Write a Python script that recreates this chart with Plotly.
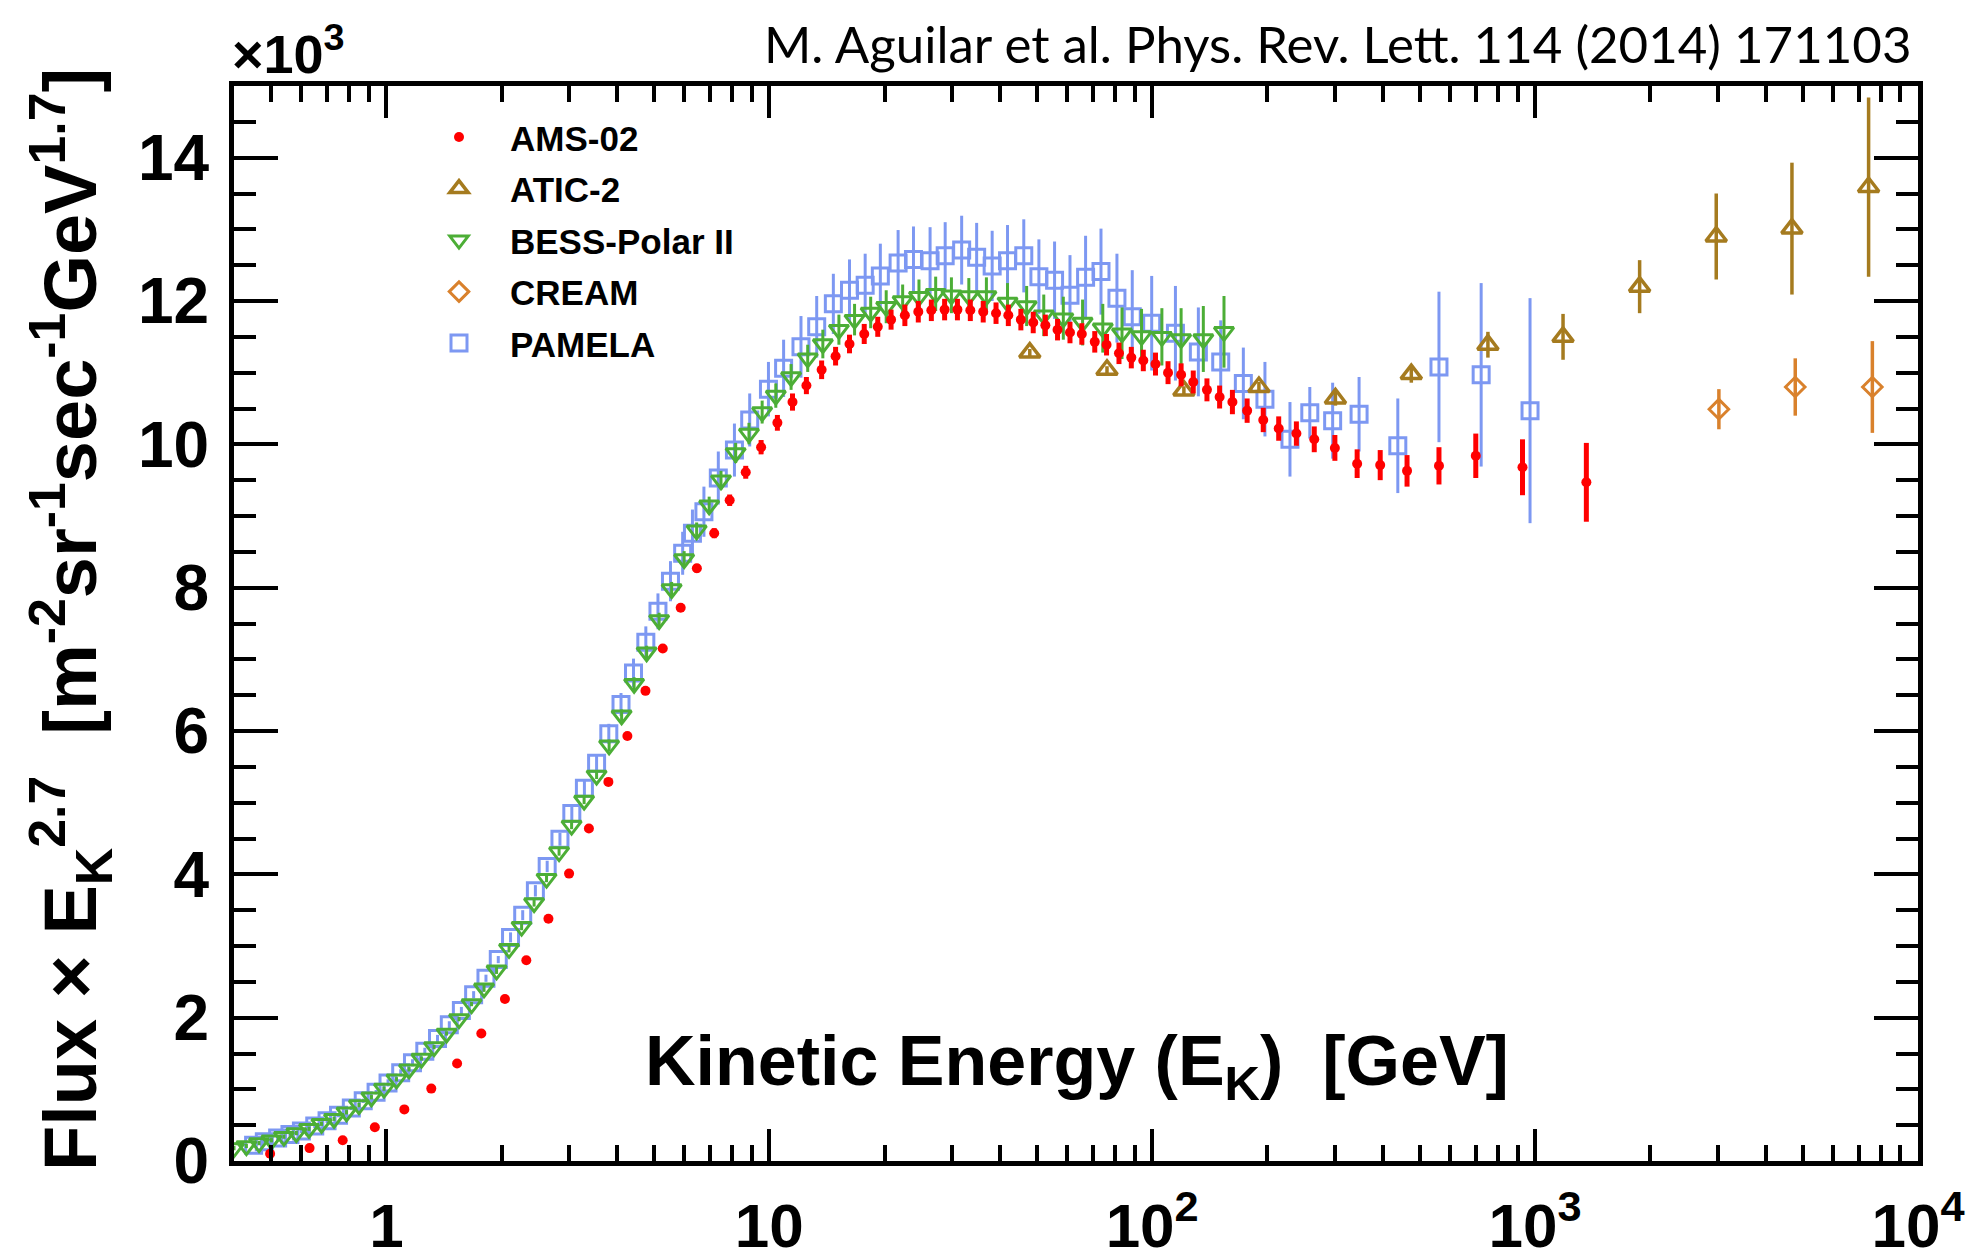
import math
import plotly.graph_objects as go

# ---------------- data ----------------
ams_E = [0.497, 0.630, 0.769, 0.933, 1.114, 1.31, 1.53, 1.77, 2.04, 2.32, 2.65, 3.00,
         3.38, 3.80, 4.26, 4.75, 5.27, 5.87, 6.47, 7.18, 7.88, 8.68, 9.52, 10.5, 11.5,
         12.5, 13.7, 14.9, 16.2, 17.7, 19.2, 20.8, 22.6, 24.5, 26.5, 28.7, 31.0, 33.5,
         36.2, 39.1, 42.1, 45.4, 48.9, 52.6, 56.6, 61.0, 65.5, 70.8, 76.0, 81.9, 88.2,
         94.8, 102, 110, 119, 128, 139, 150, 162, 177, 195, 214, 238, 265, 300, 343,
         394, 463, 561, 700, 927, 1361]
ams_F = [0.10, 0.18, 0.29, 0.47, 0.72, 1.01, 1.36, 1.78, 2.26, 2.80, 3.38, 4.01, 4.64,
         5.29, 5.93, 6.56, 7.15, 7.72, 8.27, 8.76, 9.22, 9.61, 9.96, 10.30, 10.59, 10.82,
         11.04, 11.23, 11.40, 11.54, 11.64, 11.74, 11.80, 11.85, 11.87, 11.88, 11.88,
         11.87, 11.85, 11.83, 11.80, 11.74, 11.70, 11.66, 11.60, 11.56, 11.54, 11.43,
         11.39, 11.27, 11.21, 11.17, 11.12, 11.00, 10.97, 10.87, 10.76, 10.66, 10.59,
         10.47, 10.34, 10.22, 10.15, 10.07, 9.95, 9.73, 9.71, 9.63, 9.70, 9.84, 9.68, 9.47]
ams_err = [0.03, 0.03, 0.03, 0.03, 0.03, 0.03, 0.03, 0.03, 0.03, 0.03, 0.03, 0.03,
           0.03, 0.03, 0.03, 0.03, 0.03, 0.03, 0.06, 0.07, 0.08, 0.09, 0.10, 0.11,
           0.12, 0.12, 0.13, 0.13, 0.13, 0.14, 0.14, 0.14, 0.15,
           0.15, 0.15, 0.15, 0.15, 0.15, 0.15, 0.15, 0.15, 0.15, 0.15, 0.15, 0.15,
           0.15, 0.15, 0.15, 0.15, 0.15, 0.15, 0.15,
           0.16, 0.16, 0.16, 0.16, 0.16, 0.16, 0.17, 0.17, 0.17, 0.17,
           0.17, 0.18, 0.18, 0.20, 0.21, 0.22, 0.26, 0.31, 0.39, 0.55]

atic_E = [47.9, 76.2, 121, 190, 301, 475, 753, 1183, 1875, 2972, 4686, 7430]
atic_F = [11.28, 11.04, 10.75, 10.80, 10.64, 10.98, 11.39, 11.50, 12.20, 12.90, 13.01, 13.59]
atic_err = [0.05, 0.05, 0.06, 0.07, 0.10, 0.12, 0.18, 0.32, 0.37, 0.60, 0.92, 1.25]

bess_E = [0.400, 0.431, 0.465, 0.501, 0.540, 0.582, 0.628, 0.677, 0.730, 0.787, 0.848,
          0.914, 0.986, 1.063, 1.146, 1.235, 1.332, 1.436, 1.548, 1.669, 1.799, 1.940,
          2.091, 2.255, 2.431, 2.620, 2.825, 3.046, 3.284, 3.540, 3.817, 4.115, 4.436,
          4.783, 5.156, 5.559, 5.993, 6.461, 6.966, 7.48, 8.17, 8.85, 9.58, 10.4, 11.4,
          12.6, 13.8, 15.2, 16.7, 18.4, 20.2, 22.3, 24.6, 27.2, 29.9, 33.2, 36.9, 41.9,
          47.0, 52.1, 58.6, 65.8, 74.3, 83.4, 93.8, 106, 119, 136, 154]
bess_F = [0.18, 0.21, 0.25, 0.29, 0.34, 0.39, 0.45, 0.52, 0.59, 0.68, 0.78, 0.89, 1.01,
          1.14, 1.28, 1.43, 1.59, 1.78, 1.98, 2.19, 2.41, 2.66, 2.96, 3.27, 3.60, 3.94,
          4.31, 4.68, 5.03, 5.38, 5.80, 6.22, 6.66, 7.10, 7.55, 7.98, 8.40, 8.80, 9.15,
          9.50, 9.88, 10.15, 10.45, 10.68, 10.94, 11.20, 11.40, 11.60, 11.74, 11.84,
          11.92, 12.00, 12.06, 12.10, 12.08, 12.07, 12.07, 11.98, 11.93, 11.80, 11.76,
          11.70, 11.62, 11.55, 11.51, 11.50, 11.47, 11.47, 11.57]
bess_err = [0.03, 0.03, 0.03, 0.03, 0.03, 0.03, 0.03, 0.03, 0.03, 0.03, 0.03, 0.03,
            0.03, 0.03, 0.03, 0.03, 0.03, 0.03, 0.03, 0.03,
            0.05, 0.05, 0.05, 0.05, 0.05, 0.05, 0.05, 0.05, 0.05, 0.05,
            0.08, 0.08, 0.09, 0.09, 0.10, 0.10, 0.11, 0.11, 0.12,
            0.13, 0.14, 0.15, 0.16, 0.17, 0.18, 0.19, 0.20, 0.21, 0.22, 0.22, 0.23,
            0.23, 0.24, 0.24, 0.25, 0.25, 0.26, 0.27, 0.28, 0.29, 0.30, 0.32, 0.34,
            0.36, 0.38, 0.40, 0.43, 0.46, 0.50]

cream_E = [3020, 4780, 7600]
cream_F = [10.49, 10.80, 10.80]
cream_err = [0.28, 0.40, 0.64]

pamela_E = [0.45, 0.48, 0.52, 0.56, 0.60, 0.65, 0.70, 0.75, 0.81, 0.87, 0.94, 1.01,
            1.09, 1.17, 1.26, 1.36, 1.46, 1.57, 1.69, 1.82, 1.96, 2.11, 2.27, 2.45,
            2.63, 2.84, 3.05, 3.29, 3.54, 3.81, 4.10, 4.42, 4.76, 5.12, 5.52, 5.94,
            6.30, 6.75, 7.36, 8.11, 8.89, 9.95, 10.9, 12.1, 13.3, 14.7, 16.2, 17.8,
            19.5, 21.7, 23.8, 26.3, 28.8, 31.8, 34.8, 38.2, 41.9, 46.2, 50.6, 55.6,
            61.0, 67.0, 73.5, 80.9, 88.7, 99.7, 115, 132, 151, 173, 197, 229, 258,
            296, 347, 438, 561, 723, 970]
pamela_F = [0.22, 0.27, 0.32, 0.37, 0.42, 0.49, 0.56, 0.64, 0.74, 0.84, 0.96, 1.09,
            1.23, 1.37, 1.53, 1.71, 1.90, 2.10, 2.32, 2.55, 2.81, 3.12, 3.43, 3.77,
            4.11, 4.49, 4.85, 5.20, 5.55, 5.96, 6.37, 6.81, 7.24, 7.67, 8.09, 8.48,
            8.76, 9.06, 9.53, 9.92, 10.34, 10.77, 11.06, 11.36, 11.64, 11.96, 12.15,
            12.22, 12.35, 12.53, 12.58, 12.56, 12.63, 12.71, 12.61, 12.49, 12.56,
            12.63, 12.34, 12.29, 12.08, 12.33, 12.41, 12.04, 11.78, 11.69, 11.55,
            11.29, 11.15, 10.85, 10.63, 10.07, 10.44, 10.33, 10.42, 9.98, 11.08,
            10.97, 10.47]
pamela_err = [0.03, 0.03, 0.03, 0.03, 0.03, 0.03, 0.03, 0.03, 0.03, 0.03, 0.03,
              0.05, 0.05, 0.05, 0.05, 0.05, 0.05, 0.05, 0.05, 0.05, 0.05,
              0.07, 0.07, 0.08, 0.08, 0.09, 0.10, 0.11, 0.12, 0.14,
              0.16, 0.20, 0.22, 0.25, 0.28, 0.30, 0.33,
              0.35, 0.37, 0.37, 0.37, 0.38, 0.40, 0.43, 0.43, 0.42, 0.43, 0.44,
              0.45, 0.46, 0.46, 0.47, 0.47, 0.48, 0.48, 0.49, 0.50, 0.51, 0.52,
              0.54, 0.56, 0.58, 0.60, 0.62, 0.65, 0.66, 0.66, 0.62, 0.58, 0.50,
              0.52, 0.52, 0.36, 0.53, 0.52, 0.66, 1.05, 1.28, 1.57]

x_major_vals = [1, 10, 100, 1000, 10000]
x_major_text = ["1", "10", "10<sup>2</sup>", "10<sup>3</sup>", "10<sup>4</sup>"]
x_minor_vals = [0.4, 0.5, 0.6, 0.7, 0.8, 0.9, 2, 3, 4, 5, 6, 7, 8, 9,
                20, 30, 40, 50, 60, 70, 80, 90, 200, 300, 400, 500, 600, 700, 800, 900,
                2000, 3000, 4000, 5000, 6000, 7000, 8000, 9000]
y_major_vals = [0, 2, 4, 6, 8, 10, 12, 14]
y_major_text = ["0", "2", "4", "6", "8", "10", "12", "14"]
y_minor_vals = [0.5, 1, 1.5, 2.5, 3, 3.5, 4.5, 5, 5.5, 6.5, 7, 7.5, 8.5, 9, 9.5,
                10.5, 11, 11.5, 12.5, 13, 13.5, 14.5]

# ---------------- style ----------------
FONT = "Liberation Sans, Arial, Helvetica, sans-serif"
C_AMS = "#ff0000"
C_ATIC = "#a57b1f"
C_BESS = "#4cae36"
C_CREAM = "#d9812c"
C_PAM = "#7d98f2"

W, H = 1975, 1256
ML, MR, MT, MB = 234, 57, 86, 95

fig = go.Figure()

fig.add_trace(go.Scatter(
    x=pamela_E, y=pamela_F, mode="markers", name="PAMELA", legendrank=5,
    legendgroup="g5",
    marker=dict(symbol="square-open", size=16, color=C_PAM, line=dict(width=3, color=C_PAM)),
    error_y=dict(type="data", array=pamela_err, color=C_PAM, thickness=3, width=0)))
fig.add_trace(go.Scatter(
    x=bess_E, y=bess_F, mode="markers", name="BESS-Polar II", legendrank=3,
    legendgroup="g3",
    marker=dict(symbol="triangle-down-open", size=17, color=C_BESS, line=dict(width=3, color=C_BESS)),
    error_y=dict(type="data", array=bess_err, color=C_BESS, thickness=3, width=0)))
fig.add_trace(go.Scatter(
    x=atic_E, y=atic_F, mode="markers", name="ATIC-2", legendrank=2,
    legendgroup="g2",
    marker=dict(symbol="triangle-up-open", size=18, color=C_ATIC, line=dict(width=3.5, color=C_ATIC)),
    error_y=dict(type="data", array=atic_err, color=C_ATIC, thickness=3.5, width=0)))
fig.add_trace(go.Scatter(
    x=cream_E, y=cream_F, mode="markers", name="CREAM", legendrank=4,
    legendgroup="g4",
    marker=dict(symbol="diamond-open", size=15, color=C_CREAM, line=dict(width=3, color=C_CREAM)),
    error_y=dict(type="data", array=cream_err, color=C_CREAM, thickness=3.5, width=0)))
fig.add_trace(go.Scatter(
    x=ams_E, y=ams_F, mode="markers", name="AMS-02", legendrank=1,
    legendgroup="g1",
    marker=dict(symbol="circle", size=10, color=C_AMS),
    error_y=dict(type="data", array=ams_err, color=C_AMS, thickness=5, width=0)))

axis_common = dict(
    showline=True, linewidth=5, linecolor="black", mirror="ticks",
    ticks="inside", tickwidth=4, tickcolor="black",
    showgrid=False, zeroline=False, automargin=False,
)

fig.update_layout(
    template="none",
    width=W, height=H,
    margin=dict(l=ML, r=MR, t=MT, b=MB, pad=0, autoexpand=False),
    paper_bgcolor="white", plot_bgcolor="white",
    xaxis=dict(type="log", range=[math.log10(0.4), 4.0],
               tickmode="array", tickvals=x_major_vals, ticktext=x_major_text,
               ticklen=32, ticklabelstandoff=7,
               tickfont=dict(family=FONT, size=62, color="black", weight="bold"),
               minor=dict(tickmode="array", tickvals=x_minor_vals, ticks="inside",
                          ticklen=16, tickwidth=4, tickcolor="black", showgrid=False),
               **axis_common),
    yaxis=dict(range=[0, 15], tickmode="array", tickvals=y_major_vals, ticktext=y_major_text,
               ticklen=44, ticklabelstandoff=7,
               tickfont=dict(family=FONT, size=64, color="black", weight="bold"),
               minor=dict(tickmode="array", tickvals=y_minor_vals, ticks="inside",
                          ticklen=22, tickwidth=4, tickcolor="black", showgrid=False),
               **axis_common),
    showlegend=True,
    legend=dict(x=(408 - ML) / (W - ML - MR), y=0.9797, xanchor="left", yanchor="top",
                bgcolor="rgba(0,0,0,0)", borderwidth=0,
                font=dict(family=FONT, size=35, color="black", weight="bold"),
                itemwidth=92, tracegroupgap=3, traceorder="grouped",
                itemclick=False, itemdoubleclick=False),
)

pw = W - ML - MR
ph = H - MT - MB

def px_x(px):
    return (px - ML) / pw

def px_y(py):
    return (H - MB - py) / ph

fig.add_annotation(
    text="M. Aguilar et al. Phys. Rev. Lett. 114 (2014) 171103",
    xref="paper", yref="paper", x=px_x(1914), y=px_y(44),
    xanchor="right", yanchor="middle", showarrow=False,
    font=dict(family="Lato, Open Sans, sans-serif", size=51, color="black"))

fig.add_annotation(
    text="×10<sup>3</sup>",
    xref="paper", yref="paper", x=px_x(230), y=px_y(50),
    xanchor="left", yanchor="middle", showarrow=False,
    font=dict(family=FONT, size=54, color="black", weight="bold"))

fig.add_annotation(
    text="Flux × E<sub>K</sub><sup>2.7</sup> &nbsp;[m<sup>-2</sup>sr<sup>-1</sup>sec<sup>-1</sup>GeV<sup>1.7</sup>]",
    xref="paper", yref="paper", x=px_x(70), y=px_y(620),
    xanchor="center", yanchor="middle", textangle=-90, showarrow=False,
    font=dict(family=FONT, size=74, color="black", weight="bold"))

fig.add_annotation(
    text="Kinetic Energy (E<sub>K</sub>) &nbsp;[GeV]",
    xref="paper", yref="paper", x=px_x(1077), y=px_y(1066),
    xanchor="center", yanchor="middle", showarrow=False,
    font=dict(family=FONT, size=70, color="black", weight="bold"))

fig.write_html("out.html")
